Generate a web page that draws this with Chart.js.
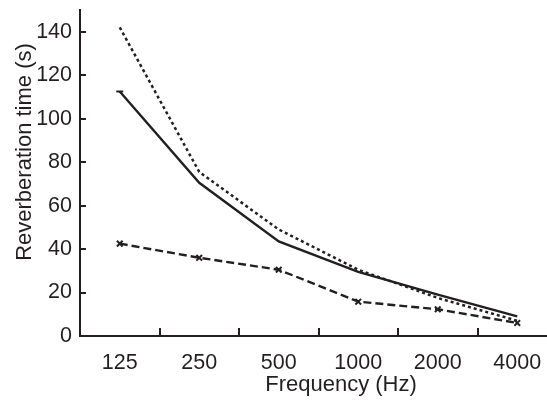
<!DOCTYPE html>
<html>
<head>
<meta charset="utf-8">
<script src="https://cdn.jsdelivr.net/npm/chart.js@4"></script>
<style>
  html, body { margin: 0; padding: 0; background: #fff; overflow: hidden; }
  #wrap { position: relative; width: 563px; height: 403px; }
</style>
</head>
<body>
<div id="wrap"><canvas id="chart" width="563" height="403"></canvas></div>
<script>
/* --------------- Data --------------------- */

const frequencies = ["125", "250", "500", "1000", "2000", "4000"];
const solidSeries = [112.5, 70.5, 43.5, 29.5, 19, 9];
const dottedSeries = [142, 75.5, 49, 30.5, 17.5, 7];
const dashedSeries = [42.5, 36, 30.5, 15.8, 12.3, 6];
const yTicks = [0, 20, 40, 60, 80, 100, 120, 140];

const ink = "#231f20";
const fontFamily = "'Liberation Sans', Arial, Helvetica, sans-serif";

/* --------------- Inward ticks + axis titles --------------------- */

const inwardTicks = {
  id: "inwardTicks",
  afterDraw(chart) {
    const ctx = chart.ctx;
    const area = chart.chartArea;
    const x = chart.scales.x;
    const y = chart.scales.y;
    ctx.save();
    ctx.strokeStyle = ink;
    ctx.lineWidth = 2;
    ctx.beginPath();
    for (let i = 1; i < frequencies.length; i++) {
      const px = Math.round((x.getPixelForValue(i - 1) + x.getPixelForValue(i)) / 2);
      ctx.moveTo(px, area.bottom);
      ctx.lineTo(px, area.bottom - 8);
    }
    yTicks.forEach((v) => {
      if (v === 0) return;
      const py = Math.round(y.getPixelForValue(v));
      ctx.moveTo(area.left, py);
      ctx.lineTo(area.left + 6, py);
    });
    ctx.stroke();

    // axis titles
    ctx.fillStyle = ink;
    ctx.font = "22px " + fontFamily;
    ctx.textAlign = "center";
    ctx.textBaseline = "alphabetic";
    ctx.fillText("Frequency (Hz)", 341, 391);
    ctx.translate(31, 152);
    ctx.rotate(-Math.PI / 2);
    ctx.fillText("Reverberation time (s)", 0, 0);
    ctx.restore();
  },
};

/* --------------- Chart --------------------- */

new Chart(document.getElementById("chart"), {
  type: "line",
  plugins: [inwardTicks],
  data: {
    labels: frequencies,
    datasets: [
      {
        data: dottedSeries,
        borderColor: ink,
        borderWidth: 2.5,
        borderDash: [3, 3],
        pointRadius: 0,
        tension: 0,
      },
      {
        data: solidSeries,
        borderColor: ink,
        borderWidth: 2.4,
        pointStyle: "line",
        pointRadius: [3.5, 0, 0, 0, 0, 0],
        pointBorderWidth: 2,
        pointBorderColor: ink,
        tension: 0,
      },
      {
        data: dashedSeries,
        borderColor: ink,
        borderWidth: 2.4,
        borderDash: [8, 4],
        pointStyle: "crossRot",
        pointRadius: 4,
        pointBorderWidth: 2,
        pointBorderColor: ink,
        tension: 0,
      },
    ],
  },
  options: {
    responsive: false,
    animation: false,
    events: [],
    layout: { padding: { top: 10, right: 0, bottom: 0, left: 0 } },
    plugins: {
      legend: { display: false },
      tooltip: { enabled: false },
    },
    scales: {
      x: {
        offset: true,
        grid: { display: true, drawOnChartArea: false, drawTicks: false, offset: true },
        border: { display: true, color: ink, width: 2 },
        ticks: {
          color: ink,
          font: { family: fontFamily, size: 21.5 },
          padding: 14,
          maxRotation: 0,
          autoSkip: false,
        },
        afterFit: (scale) => {
          scale.height = 67;
          scale.paddingLeft = 0;
          scale.paddingRight = 0;
        },
      },
      y: {
        min: 0,
        max: 150,
        grid: { display: true, drawOnChartArea: false, drawTicks: false },
        border: { display: true, color: ink, width: 2 },
        ticks: {
          color: ink,
          font: { family: fontFamily, size: 21.5 },
          padding: 8,
        },
        afterBuildTicks: (scale) => { scale.ticks = yTicks.map((v) => ({ value: v })); },
        afterFit: (scale) => {
          scale.width = 80;
          scale.paddingTop = 0;
          scale.paddingBottom = 0;
        },
      },
    },
  },
});
</script>
</body>
</html>
